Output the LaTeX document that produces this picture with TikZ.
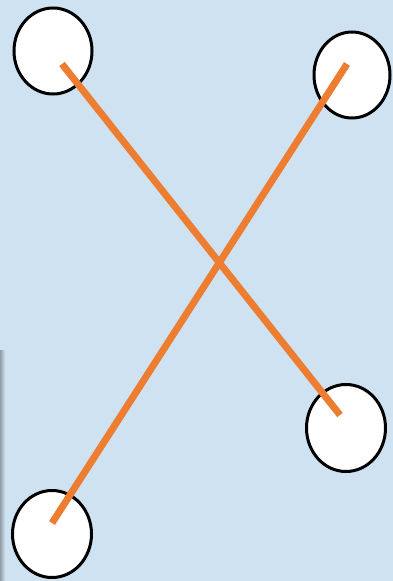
\documentclass[tikz,border=0pt]{standalone}
\usetikzlibrary{shapes.geometric}
\definecolor{bgblue}{HTML}{CFE2F1}
\definecolor{orangeline}{HTML}{ED7D31}
\tikzset{
  blob/.style={ellipse, draw=black, line width=3pt, fill=white, inner sep=0pt},
  wire/.style={draw=orangeline, line width=7pt, line cap=butt}
}
\begin{document}
\begin{tikzpicture}[x=1pt,y=-1pt]
\fill[bgblue] (0,0) rectangle (393,581);
\useasboundingbox (0,0) rectangle (393,581);
\shade[left color=black!30!bgblue, right color=bgblue] (0,350) rectangle (5,581);
\node[blob, minimum width=78pt, minimum height=86pt] (tl) at (53,51) {};
\node[blob, minimum width=76pt, minimum height=86pt] (tr) at (352,75) {};
\node[blob, minimum width=79pt, minimum height=87pt] (br) at (346,428) {};
\node[blob, minimum width=79pt, minimum height=87pt] (bl) at (52,534) {};
\coordinate (a1) at (62,64);
\coordinate (a2) at (340,415);
\coordinate (b1) at (347,64);
\coordinate (b2) at (52,523);
\draw[wire] (a1) -- (a2);
\draw[wire] (b1) -- (b2);
\end{tikzpicture}
\end{document}
